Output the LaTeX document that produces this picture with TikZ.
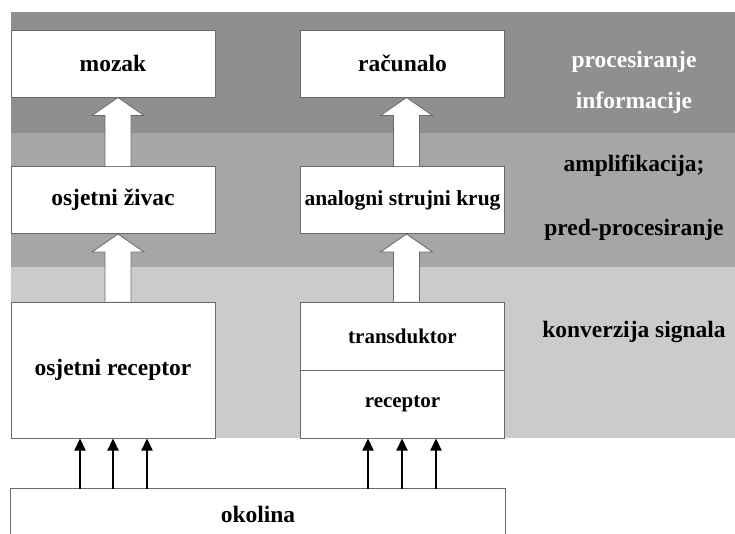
\documentclass[tikz,border=0pt]{standalone}
\usepackage{fontspec}
\setmainfont{Liberation Serif}
\usetikzlibrary{arrows.meta}
\definecolor{bandtop}{RGB}{143,143,145}
\definecolor{bandmid}{RGB}{166,166,168}
\definecolor{bandlow}{RGB}{203,203,205}
\definecolor{edge}{RGB}{105,105,105}

\begin{document}
\begin{tikzpicture}
   [x=1pt,y=-1pt,
    box/.style={rectangle,draw=edge,line width=1pt,fill=white,inner sep=0pt,
                minimum width=204pt,minimum height=67pt,font=\fontsize{23.5}{26}\bfseries},
    bigarr/.style={draw=edge,line width=0.8pt,fill=white},
    thinarr/.style={line width=2.2pt,-{Triangle[length=12pt,width=11pt]}},
    side/.style={font=\fontsize{23.5}{26}\bfseries}]
   \useasboundingbox (0,0) rectangle (735,533);
   % layers
   \fill[bandtop] (11,12) rectangle (735,133);
   \fill[bandmid] (11,133) rectangle (735,267);
   \fill[bandlow] (11,267) rectangle (735,438);
   % blocks
   \node[box] (mozak) at (113,63.5) {mozak};
   \node[box] (racunalo) at (402.5,63.5) {računalo};
   \node[box] (zivac) at (113,200) {osjetni živac};
   \node[box,font=\fontsize{21.5}{24}\bfseries] (krug) at (402.5,200) {analogni strujni krug};
   \node[box,minimum height=136pt] (osrec) at (113,370) {osjetni receptor};
   \node[box,minimum height=68pt,font=\fontsize{21}{24}\bfseries] (trans) at (402.5,336) {transduktor};
   \node[box,minimum height=68pt,font=\fontsize{21}{24}\bfseries] (rec) at (402.5,404) {receptor};
   \node[box,draw=none,minimum width=494pt,minimum height=51pt] (okolina) at (258,514.5) {okolina};
   \draw[edge,line width=1pt] (okolina.south west) |- (okolina.north east) -- (okolina.south east);
   % wide arrows between levels
   \foreach \lo/\hi/\dx in {zivac/mozak/5, osrec/zivac/5, krug/racunalo/4, trans/krug/4}
      \draw[bigarr] ([xshift=\dx pt-13pt]\lo.north) -- ([xshift=\dx pt-13pt,yshift=-18pt]\hi.south)
         -- ([xshift=\dx pt-26pt,yshift=-18pt]\hi.south) -- ([xshift=\dx pt]\hi.south)
         -- ([xshift=\dx pt+26pt,yshift=-18pt]\hi.south) -- ([xshift=\dx pt+13pt,yshift=-18pt]\hi.south)
         -- ([xshift=\dx pt+13pt]\lo.north);
   % inputs from the surroundings
   \foreach \x in {80,113,147}
      \draw[thinarr] (\x,0 |- okolina.north) -- (\x,0 |- osrec.south);
   \foreach \x in {368,402,436}
      \draw[thinarr] (\x,0 |- okolina.north) -- (\x,0 |- rec.south);
   % level names
   \node[side,text=white] (proc) at (634,62) {procesiranje};
   \node[side,text=white] (info) at (634,103) {informacije};
   \node[side] (ampl) at (634,166) {amplifikacija;};
   \node[side] (pred) at (634,230) {pred-procesiranje};
   \node[side] (konv) at (634,332) {konverzija signala};
\end{tikzpicture}
\end{document}
